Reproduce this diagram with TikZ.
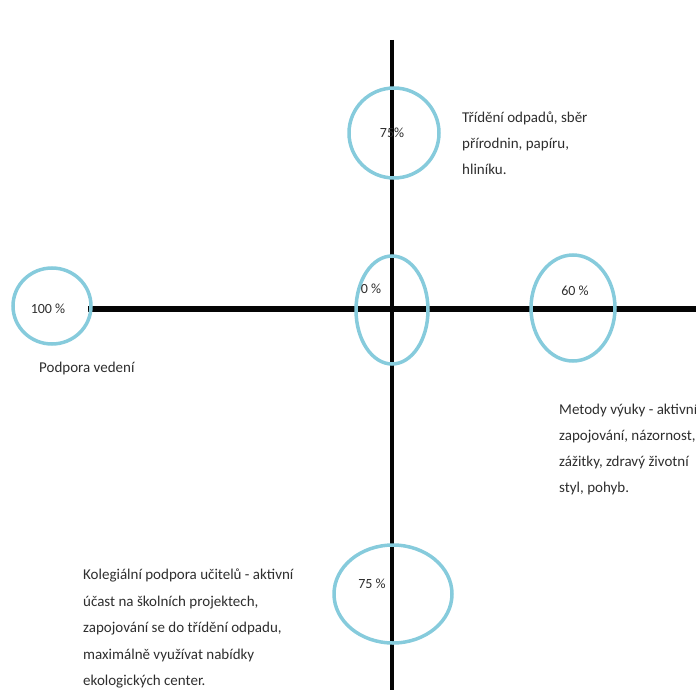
\documentclass[tikz,border=0pt]{standalone}
\usepackage{fontspec}
\setmainfont{Carlito}
\usepackage{xcolor}
\usepackage{tikz}
\usetikzlibrary{positioning,shapes.geometric}
\definecolor{ringblue}{HTML}{86CBDC}
\definecolor{axis}{HTML}{050505}
\definecolor{ink}{HTML}{2E2E2E}
\tikzset{
    ring/.style={ellipse, draw=ringblue, line width=3.5pt, inner sep=0pt},
    axisline/.style={draw=axis, line cap=butt},
    pct/.style={inner sep=0pt, text=ink, font=\fontsize{14}{16}\selectfont},
    note/.style={inner sep=0pt, anchor=north west, align=left, text=ink}
}

\begin{document}
\begin{tikzpicture}[x=1pt, y=-1pt]
\useasboundingbox (0,0) rectangle (696,690);

% ── Axes ──
\coordinate (axtop) at (392,40);
\coordinate (axbot) at (392,690);
\coordinate (axleft) at (88,309);
\coordinate (axright) at (696,309);
\draw[axisline, line width=6pt] (axleft) -- (axright);
\draw[axisline, line width=4pt] (axtop) -- (axbot);

% ── Rings ──
\node[ring, minimum width=90pt, minimum height=90pt] (top) at (394,133) {};
\node[ring, minimum width=78pt, minimum height=76pt] (left) at (52,306) {};
\node[ring, minimum width=72pt, minimum height=108pt] (centre) at (392,310) {};
\node[ring, minimum width=84pt, minimum height=106pt] (right) at (573,308) {};
\node[ring, minimum width=118pt, minimum height=98pt] (bottom) at (393,594) {};

% ── Percent labels ──
\node[pct] (ptop) at (392,133) {75\%};
\node[pct] (pleft) at (48,309) {100 \%};
\node[pct] (pcentre) at (371,289) {0 \%};
\node[pct] (pright) at (575,291) {60 \%};
\node[pct] (pbottom) at (372,584) {75 \%};

% ── Notes ──
\node[note, font=\fontsize{15}{26}\selectfont] (ntop) at (462,112) {
    Třídění odpadů, sběr\\
    přírodnin, papíru,\\
    hliníku.
};
\node[note, font=\fontsize{15}{25}\selectfont] (nleft) at (39,362) {Podpora vedení};
\node[note, font=\fontsize{15}{26}\selectfont] (nright) at (559,404) {
    Metody výuky - aktivní\\
    zapojování, názornost,\\
    zážitky, zdravý životní\\
    styl, pohyb.
};
\node[note, font=\fontsize{15}{26.5}\selectfont] (nbottom) at (83,569) {
    Kolegiální podpora učitelů - aktivní\\
    účast na školních projektech,\\
    zapojování se do třídění odpadu,\\
    maximálně využívat nabídky\\
    ekologických center.
};

\end{tikzpicture}
\end{document}
